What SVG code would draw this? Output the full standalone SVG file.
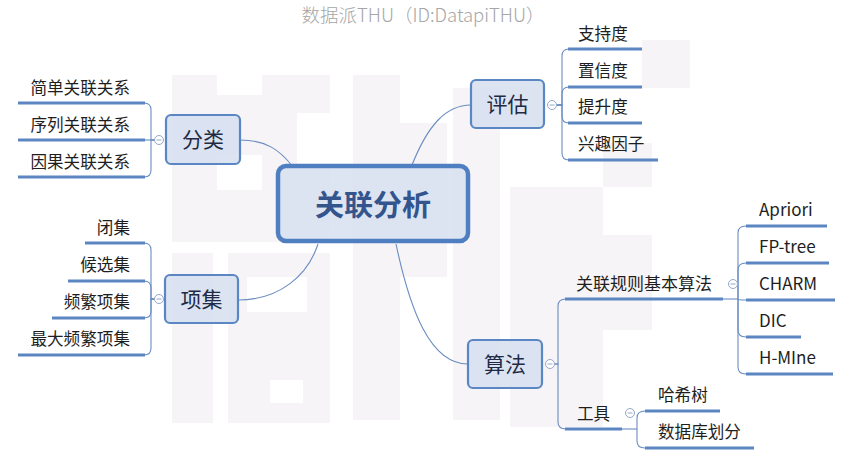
<svg xmlns="http://www.w3.org/2000/svg" width="853" height="465" viewBox="0 0 853 465">
<defs>
<style>
.wm{fill:#f6f4f7}
.t{font-family:"Noto Sans CJK SC","Liberation Sans",sans-serif;fill:#1e1e1e}
.leaf{font-size:16.6px}
.node rect{fill:#d8e1f1;fill-opacity:0.9;stroke:#5a86c3;stroke-width:2.2}
.nt{font-size:21px;fill:#1f2b45;text-anchor:middle}
.ul{stroke:#5b86c2;stroke-width:3;fill:none}
.br{stroke:#6a8cc0;stroke-width:1.1;fill:none}
.cl{fill:#fff;stroke:#93a8c9;stroke-width:1}
.cm{stroke:#93a8c9;stroke-width:1}
</style>
</defs>
<rect width="853" height="465" fill="#ffffff"/>
<g id="watermark">
<rect class="wm" x="172" y="75" width="45" height="167"/>
<rect class="wm" x="217" y="95" width="45" height="60"/>
<rect class="wm" x="262" y="75" width="68" height="38"/>
<rect class="wm" x="262" y="113" width="35" height="129"/>
<rect class="wm" x="297" y="165" width="33" height="77"/>
<rect class="wm" x="217" y="190" width="45" height="52"/>
<rect class="wm" x="172" y="253" width="41" height="170"/>
<path class="wm" fill-rule="evenodd" d="M228,253H330V423H228Z M247,277H307V312H247Z M270,380H303V403H270Z"/>
<rect class="wm" x="353" y="75" width="47" height="345"/>
<rect class="wm" x="400" y="123" width="47" height="154"/>
<rect class="wm" x="453" y="88" width="47" height="332"/>
<rect class="wm" x="510" y="187" width="93" height="240"/>
<rect class="wm" x="603" y="235" width="49" height="95"/>
<rect class="wm" x="603" y="143" width="49" height="44"/>
<rect class="wm" x="642" y="40" width="48" height="48"/>
</g>
<text class="t" x="423" y="22" font-size="18.5" font-weight="300" text-anchor="middle" style="fill:#a6a6a6">数据派THU（ID:DatapiTHU）</text>
<g id="connectors">
<path class="br" d="M240,140 C266,140 280,150 293,167"/>
<path class="br" d="M238,300 C280,300 308,275 318,244"/>
<path class="br" d="M412,165 C428,125 446,105 471,105"/>
<path class="br" d="M396,244 C410,310 430,364 468,364"/>
<path class="br" d="M154.5,140 H151 V110 Q151,103 144,103"/>
<path class="br" d="M154.5,140 H144"/>
<path class="br" d="M154.5,140 H151 V170 Q151,177 144,177"/>
<path class="br" d="M154.5,299 H151 V250 Q151,243 144,243"/>
<path class="br" d="M154.5,299 H151 V288 Q151,281 144,281"/>
<path class="br" d="M154.5,299 H151 V311 Q151,318 144,318"/>
<path class="br" d="M154.5,299 H151 V348 Q151,355 144,355"/>
<path class="br" d="M556.5,105 H562 V56 Q562,49 569,49"/>
<path class="br" d="M556.5,105 H562 V94 Q562,87 569,87"/>
<path class="br" d="M556.5,105 H562 V116 Q562,123 569,123"/>
<path class="br" d="M556.5,105 H562 V153 Q562,160 569,160"/>
<path class="br" d="M554.5,364 H558 V306 Q558,299 566,299"/>
<path class="br" d="M554.5,364 H558 V422 Q558,429 566,429"/>
<path class="br" d="M723,299 H738"/>
<path class="br" d="M738,299 V233 Q738,226 746,226"/>
<path class="br" d="M738,299 V270 Q738,263 746,263"/>
<path class="br" d="M738,299 Q738,300 746,300"/>
<path class="br" d="M738,299 V330 Q738,337 746,337"/>
<path class="br" d="M738,299 V367 Q738,374 746,374"/>
<path class="br" d="M622,429 H637"/>
<path class="br" d="M637,429 V418 Q637,411 645,411"/>
<path class="br" d="M637,429 V441 Q637,448 645,448"/>
<line class="ul" x1="18" y1="103" x2="145" y2="103"/>
<line class="ul" x1="18" y1="140" x2="145" y2="140"/>
<line class="ul" x1="18" y1="177" x2="145" y2="177"/>
<line class="ul" x1="85" y1="243" x2="145" y2="243"/>
<line class="ul" x1="68" y1="281" x2="145" y2="281"/>
<line class="ul" x1="52" y1="318" x2="145" y2="318"/>
<line class="ul" x1="18" y1="355" x2="145" y2="355"/>
<line class="ul" x1="568" y1="49" x2="642" y2="49"/>
<line class="ul" x1="568" y1="87" x2="642" y2="87"/>
<line class="ul" x1="568" y1="123" x2="642" y2="123"/>
<line class="ul" x1="568" y1="160" x2="658" y2="160"/>
<line class="ul" x1="565" y1="299" x2="723" y2="299"/>
<line class="ul" x1="565" y1="429" x2="622" y2="429"/>
<line class="ul" x1="746" y1="226" x2="827" y2="226"/>
<line class="ul" x1="746" y1="263" x2="829" y2="263"/>
<line class="ul" x1="746" y1="300" x2="835" y2="300"/>
<line class="ul" x1="746" y1="337" x2="801" y2="337"/>
<line class="ul" x1="746" y1="374" x2="833" y2="374"/>
<line class="ul" x1="645" y1="411" x2="720" y2="411"/>
<line class="ul" x1="645" y1="448" x2="754" y2="448"/>
</g>
<g id="center" class="node">
<rect x="278" y="166" width="190" height="75" rx="8" style="stroke-width:4.5;stroke:#4f7fc0;fill:#d9e2f1"/>
<text class="t" x="373" y="216" font-size="29" font-weight="bold" text-anchor="middle" style="fill:#33548c">关联分析</text>
</g>
<g id="fenlei" class="node">
<rect x="166" y="115" width="74" height="49" rx="5"/>
<text class="t nt" x="203" y="147">分类</text>
</g>
<g id="xiangji" class="node">
<rect x="165" y="275" width="73" height="48" rx="5"/>
<text class="t nt" x="201.5" y="307">项集</text>
</g>
<g id="pinggu" class="node">
<rect x="471" y="80" width="73" height="48" rx="5"/>
<text class="t nt" x="507.5" y="112">评估</text>
</g>
<g id="suanfa" class="node">
<rect x="468" y="340" width="74" height="48" rx="5"/>
<text class="t nt" x="505" y="372">算法</text>
</g>
<g id="collapse">
<circle class="cl" cx="159" cy="140" r="4.5"/><line class="cm" x1="156.5" y1="140" x2="161.5" y2="140"/>
<circle class="cl" cx="159" cy="299" r="4.5"/><line class="cm" x1="156.5" y1="299" x2="161.5" y2="299"/>
<circle class="cl" cx="552" cy="105" r="4.5"/><line class="cm" x1="549.5" y1="105" x2="554.5" y2="105"/>
<circle class="cl" cx="550" cy="364" r="4.5"/><line class="cm" x1="547.5" y1="364" x2="552.5" y2="364"/>
<circle class="cl" cx="733" cy="284" r="4.5"/><line class="cm" x1="730.5" y1="284" x2="735.5" y2="284"/>
<circle class="cl" cx="630" cy="413" r="4.5"/><line class="cm" x1="627.5" y1="413" x2="632.5" y2="413"/>
</g>
<g id="leaf-fenlei">
<text class="t leaf" x="130" y="94" text-anchor="end">简单关联关系</text>
<text class="t leaf" x="130" y="131" text-anchor="end">序列关联关系</text>
<text class="t leaf" x="130" y="168" text-anchor="end">因果关联关系</text>
</g>
<g id="leaf-xiangji">
<text class="t leaf" x="130" y="234" text-anchor="end">闭集</text>
<text class="t leaf" x="130" y="271" text-anchor="end">候选集</text>
<text class="t leaf" x="130" y="308" text-anchor="end">频繁项集</text>
<text class="t leaf" x="130" y="345" text-anchor="end">最大频繁项集</text>
</g>
<g id="leaf-pinggu">
<text class="t leaf" x="578" y="40">支持度</text>
<text class="t leaf" x="578" y="77">置信度</text>
<text class="t leaf" x="578" y="113">提升度</text>
<text class="t leaf" x="578" y="150">兴趣因子</text>
</g>
<g id="leaf-suanfa">
<text class="t leaf" x="576" y="290" style="font-size:17px">关联规则基本算法</text>
<text class="t leaf" x="577" y="420">工具</text>
</g>
<g id="leaf-algos">
<text class="t leaf" x="759" y="216" style="font-size:17px">Apriori</text>
<text class="t leaf" x="759" y="253" style="font-size:17px">FP-tree</text>
<text class="t leaf" x="759" y="290" style="font-size:17px">CHARM</text>
<text class="t leaf" x="759" y="327" style="font-size:17px">DIC</text>
<text class="t leaf" x="759" y="364" style="font-size:17px">H-MIne</text>
</g>
<g id="leaf-tools">
<text class="t leaf" x="658" y="401">哈希树</text>
<text class="t leaf" x="658" y="438">数据库划分</text>
</g>
</svg>
